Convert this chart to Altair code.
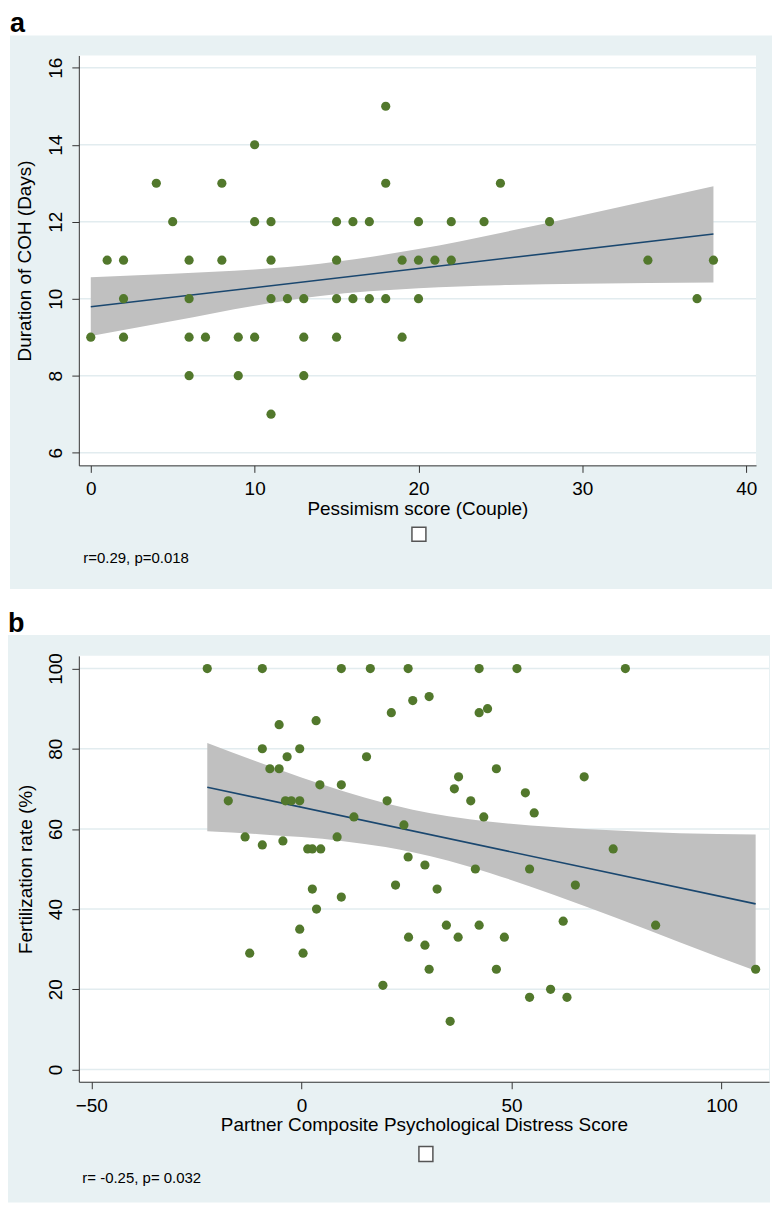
import altair as alt
import pandas as pd

FONT = "Liberation Sans"
GREEN = "#52782c"
NAVY = "#1a476f"
BAND = "#c0c0c0"
BG = "#e8f1f3"
GRID = "#e2ecef"
AXC = "#333333"

# ---------------- Panel a data ----------------
a_x = [11,
       6, 9, 13,
       0, 2, 6, 7, 9, 10, 13, 15, 19,
       2, 6, 11, 12, 13, 15, 16, 17, 18, 20, 37,
       1, 2, 6, 8, 11, 15, 19, 20, 21, 22, 34, 38,
       5, 10, 11, 15, 16, 17, 20, 22, 24, 28,
       4, 8, 18, 25,
       10,
       18]
a_y = [7,
       8, 8, 8,
       9, 9, 9, 9, 9, 9, 9, 9, 9,
       10, 10, 10, 10, 10, 10, 10, 10, 10, 10, 10,
       11, 11, 11, 11, 11, 11, 11, 11, 11, 11, 11, 11,
       12, 12, 12, 12, 12, 12, 12, 12, 12, 12,
       13, 13, 13, 13,
       14,
       15]
a_band_x = [0, 5, 10, 14, 20, 25, 30, 38]
a_band_lo = [9.03, 9.42, 9.82, 10.07, 10.27, 10.35, 10.39, 10.42]
a_band_hi = [10.56, 10.65, 10.76, 10.91, 11.29, 11.71, 12.17, 12.92]
a_fit_x = [0, 38]
a_fit_y = [9.79, 11.68]
a_xticks = [0, 10, 20, 30, 40]
a_yticks = [6, 8, 10, 12, 14, 16]

# ---------------- Panel b data ----------------
b_x = [-22.4, -9.3, 9.5, 16.4, 25.4, 42.3, 51.3, 77.1,
       21.4, -5.3, 3.5, -9.3, -0.4, -3.4, 15.5, -7.5, -5.3, 4.4, 9.5,
       -17.4, -3.8, -2.4, -0.4, 20.4, 12.5, -13.4, -9.3, -4.4, 8.5,
       1.5, 2.6, 4.6, 2.6, 9.5, 3.6, -0.4, -12.3, 0.4, 19.4, 22.4,
       26.5, 30.4, 42.3, 44.3, 46.4, 37.4, 36.4, 67.3, 40.3, 53.3,
       43.4, 55.4, 24.4, 74.2, 25.4, 29.4, 41.4, 54.3, 32.3, 65.2,
       62.3, 34.5, 42.3, 84.3, 25.5, 37.3, 48.3, 29.4, 30.4, 46.4,
       108.1, 54.3, 59.3, 63.2, 35.4]
b_y = [100, 100, 100, 100, 100, 100, 100, 100,
       89, 86, 87, 80, 80, 78, 78, 75, 75, 71, 71,
       67, 67, 67, 67, 67, 63, 58, 56, 57, 58,
       55, 55, 55, 45, 43, 40, 35, 29, 29, 21, 46,
       92, 93, 89, 90, 75, 73, 70, 73, 67, 69,
       63, 64, 61, 55, 53, 51, 50, 50, 45, 46,
       37, 36, 36, 36, 33, 33, 33, 31, 25, 25,
       25, 18, 20, 18, 12]
b_band_x = [-22.4, -10, 0, 10, 20, 26.5, 35, 45, 60, 75, 90, 108.1]
b_band_lo = [59.4, 58.7, 57.96, 56.95, 55.49, 54.2, 52.05, 48.95, 43.57, 37.77, 31.76, 24.6]
b_band_hi = [81.4, 76.56, 72.84, 69.39, 66.39, 64.78, 63.15, 61.79, 60.47, 59.59, 58.9, 58.6]
b_fit_x = [-22.4, 108.1]
b_fit_y = [70.4, 41.3]
b_xticks = [-50, 0, 50, 100]
b_yticks = [0, 20, 40, 60, 80, 100]

panel_labels = ["a", "b"]
stat_labels = ["r=0.29, p=0.018", "r= -0.25, p= 0.032"]
x_titles = ["Pessimism score (Couple)", "Partner Composite Psychological Distress Score"]
y_titles = ["Duration of COH (Days)", "Fertilization rate (%)"]


def make_panel(px, py, bx, blo, bhi, fx, fy, xdom, ydom, xticks, yticks,
               w, h, xtitle, ytitle, label, label_y, stat, sq, stat_pos,
               left, right, top_space, box, xlabpad, ytitle_x):
    xs = alt.Scale(domain=xdom, nice=False, zero=False)
    ys = alt.Scale(domain=ydom, nice=False, zero=False)
    xaxis = alt.Axis(values=xticks, title=xtitle, grid=False,
                     labelPadding=xlabpad, labelBaseline="alphabetic",
                     titleX=w / 2, titleY=49, titleBaseline="alphabetic",
                     titleAlign="center", zindex=1)
    yaxis = alt.Axis(values=yticks, title=ytitle, grid=False,
                     labelAngle=270, labelAlign="center",
                     labelBaseline="alphabetic", labelPadding=10,
                     titleAngle=270, titleX=ytitle_x, titleY=h / 2,
                     titleAlign="center", titleBaseline="alphabetic", zindex=1)

    pts = pd.DataFrame({"x": px, "y": py})
    band = pd.DataFrame({"x": bx, "lo": blo, "hi": bhi})
    fit = pd.DataFrame({"x": fx, "y": fy})
    grid = pd.DataFrame({"g": yticks})
    one = pd.DataFrame({"t": [label], "s": [stat]})

    space = alt.Chart(one).mark_rect(fill="white").encode(
        x=alt.value(left), x2=alt.value(right),
        y=alt.value(top_space), y2=alt.value(box[0]))
    frame = alt.Chart(one).mark_rect(fill=BG).encode(
        x=alt.value(left), x2=alt.value(right),
        y=alt.value(box[0]), y2=alt.value(box[1]))
    plotbg = alt.Chart(one).mark_rect(fill="white").encode(
        x=alt.value(0), x2=alt.value(w), y=alt.value(0), y2=alt.value(h))
    lab = alt.Chart(one).mark_text(font=FONT, fontSize=27, fontWeight="bold",
                                   align="left", baseline="alphabetic",
                                   color="black").encode(
        x=alt.value(left), y=alt.value(label_y), text="t:N")

    gridr = alt.Chart(grid).mark_rule(color=GRID, strokeWidth=1.5).encode(
        y=alt.Y("g:Q", scale=ys, axis=yaxis))
    area = alt.Chart(band).mark_area(color=BAND, opacity=1,
                                     interpolate="monotone").encode(
        x=alt.X("x:Q", scale=xs, axis=xaxis),
        y=alt.Y("lo:Q", scale=ys, axis=yaxis),
        y2="hi:Q")
    line = alt.Chart(fit).mark_line(color=NAVY, strokeWidth=1.6).encode(
        x=alt.X("x:Q", scale=xs, axis=xaxis),
        y=alt.Y("y:Q", scale=ys, axis=yaxis))
    dots = alt.Chart(pts).mark_circle(color=GREEN, opacity=1, size=85).encode(
        x=alt.X("x:Q", scale=xs, axis=xaxis),
        y=alt.Y("y:Q", scale=ys, axis=yaxis))

    square = alt.Chart(one).mark_rect(fill="white", stroke="#555555",
                                      strokeWidth=1.5).encode(
        x=alt.value(sq[0]), x2=alt.value(sq[1]),
        y=alt.value(sq[2]), y2=alt.value(sq[3]))
    stat_t = alt.Chart(one).mark_text(font=FONT, fontSize=15, align="left",
                                      baseline="alphabetic",
                                      color="black").encode(
        x=alt.value(stat_pos[0]), y=alt.value(stat_pos[1]), text="s:N")

    return alt.layer(space, frame, plotbg, gridr, area, line, dots, square,
                     stat_t, lab).properties(width=w, height=h)


pa = make_panel(a_x, a_y, a_band_x, a_band_lo, a_band_hi, a_fit_x, a_fit_y,
                [-0.73, 40.6], [5.67, 16.32], a_xticks, a_yticks,
                679, 411, x_titles[0], y_titles[0], panel_labels[0], -24,
                stat_labels[0], (334, 348, 473, 487), (4.5, 509),
                -69, 695, -44, (-20, 535), 22, -48)

pb = make_panel(b_x, b_y, b_band_x, b_band_lo, b_band_hi, b_fit_x, b_fit_y,
                [-52.97, 111.28], [-3.06, 103.16], b_xticks, b_yticks,
                692, 427, x_titles[1], y_titles[1], panel_labels[1], -24,
                stat_labels[1], (341, 355, 492, 507), (3.5, 528.7),
                -71, 693, -67, (-21, 548), 23, -47)

chart = alt.vconcat(pa, pb, spacing=0).properties(padding=0).configure(
    background="white"
).configure_view(fill="white", strokeWidth=0).configure_axis(
    domainColor=AXC, tickColor=AXC, tickSize=7, domainWidth=1, tickWidth=1,
    labelFont=FONT, titleFont=FONT, labelFontSize=19, titleFontSize=19,
    titleFontWeight="normal", labelColor="black", titleColor="black",
    labelFlush=False, labelOverlap=False
)

chart.save("out.html", embed_options={"renderer": "svg", "actions": False})
